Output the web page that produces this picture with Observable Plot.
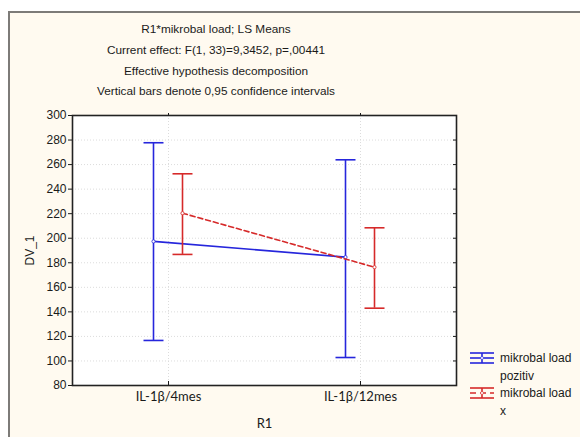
<!DOCTYPE html>
<html>
<head>
<meta charset="utf-8">
<script src="https://cdn.jsdelivr.net/npm/d3@7"></script>
<script src="https://cdn.jsdelivr.net/npm/@observablehq/plot@0.6"></script>
<style>
  html, body { margin: 0; padding: 0; background: #ffffff; width: 580px; height: 437px; overflow: hidden; }
  #wrap { position: relative; width: 580px; height: 437px; }
  #panel { position: absolute; left: 8px; top: 11px; width: 600px; height: 500px; background: #fffaf0; border-left: 2px solid #7d7b78; border-top: 2px solid #7d7b78; }
  #chart { position: absolute; left: 0; top: 0; }
  .title { position: absolute; left: 0; width: 432px; text-align: center; font-family: "Liberation Sans", Arial, sans-serif; font-size: 11.8px; color: #1a1a1a; line-height: 14px; }
  .leg { position: absolute; font-family: "Liberation Sans", Arial, sans-serif; font-size: 12px; color: #1a1a1a; line-height: 14px; }
</style>
</head>
<body>
<div id="wrap">
  <div id="panel"></div>
  <div id="chart"></div>
</div>
<script>
// ---- data ----
const categories = ["IL-1β/4mes", "IL-1β/12mes"];
const seriesNames = ["mikrobal load pozitiv", "mikrobal load x"];
const pozitivMean = [197.4, 184.6];
const pozitivLow  = [116.7, 102.8];
const pozitivHigh = [277.8, 263.9];
const xMean = [220.4, 176.4];
const xLow  = [186.8, 143.0];
const xHigh = [252.5, 208.5];
const yTicks = [80, 100, 120, 140, 160, 180, 200, 220, 240, 260, 280, 300];
const titleLines = [
  "R1*mikrobal load; LS Means",
  "Current effect: F(1, 33)=9,3452, p=,00441",
  "Effective hypothesis decomposition",
  "Vertical bars denote 0,95 confidence intervals"
];

const seriesDefs = [
  {name: seriesNames[0], mean: pozitivMean, lo: pozitivLow, hi: pozitivHigh, color: "#2626dc", dash: null, dx: -15},
  {name: seriesNames[1], mean: xMean, lo: xLow, hi: xHigh, color: "#d62a2a", dash: "5,3", dx: 14}
];

// horizontal cap symbol for error bars
const capSymbol = {
  draw(context, size) {
    const r = Math.sqrt(size / Math.PI);
    context.moveTo(-r, 0);
    context.lineTo(r, 0);
  }
};

const marks = [
  Plot.frame({fill: "white"}),
  Plot.gridY(yTicks, {stroke: "#dcdcdc", strokeOpacity: 1, strokeDasharray: "1,2"}),
  Plot.gridX(categories, {stroke: "#dcdcdc", strokeOpacity: 1, strokeDasharray: "1,2"})
];

for (const s of seriesDefs) {
  const rows = categories.map((c, i) => ({cat: c, mean: s.mean[i], lo: s.lo[i], hi: s.hi[i]}));
  marks.push(
    Plot.ruleX(rows, {x: "cat", y1: "lo", y2: "hi", stroke: s.color, strokeWidth: 1.6, dx: s.dx}),
    Plot.dot(rows, {x: "cat", y: "lo", symbol: capSymbol, r: 10, stroke: s.color, strokeWidth: 1.6, dx: s.dx}),
    Plot.dot(rows, {x: "cat", y: "hi", symbol: capSymbol, r: 10, stroke: s.color, strokeWidth: 1.6, dx: s.dx}),
    Plot.line(rows, {x: "cat", y: "mean", stroke: s.color, strokeWidth: 1.6, strokeDasharray: s.dash, dx: s.dx}),
    Plot.dot(rows, {x: "cat", y: "mean", r: 1.6, fill: "white", stroke: s.color, strokeWidth: 0.8, dx: s.dx})
  );
}

marks.push(
  Plot.axisY(yTicks, {tickSize: 4, tickPadding: 2, fontSize: 12, fontFamily: "Liberation Sans, Arial, sans-serif",
    label: "DV_1", labelAnchor: "center", labelArrow: "none", labelOffset: 47}),
  Plot.axisY(yTicks, {anchor: "right", tickSize: -4, text: null, label: null}),
  Plot.axisX(categories, {tickSize: -4, tickPadding: 10, fontSize: 13, fontFamily: "Lato, sans-serif",
    label: "R1", labelAnchor: "center", labelArrow: "none", labelOffset: 42}),
  Plot.axisX(categories, {anchor: "top", tickSize: 3, text: null, label: null}),
  Plot.frame({stroke: "#222", strokeWidth: 1.6})
);

const chart = Plot.plot({
  width: 580,
  height: 437,
  marginLeft: 72,
  marginRight: 124,
  marginTop: 115,
  marginBottom: 52,
  style: {background: "transparent", color: "#1a1a1a", fontFamily: "Lato, sans-serif", fontSize: "13px"},
  x: {type: "point", domain: categories, padding: 0.5},
  y: {domain: [80, 300]},
  marks
});
document.getElementById("chart").appendChild(chart);

// titles
const wrap = document.getElementById("wrap");
const titleY = [22, 43, 64, 84];
titleLines.forEach((t, i) => {
  const d = document.createElement("div");
  d.className = "title";
  d.style.top = titleY[i] + "px";
  d.textContent = t;
  wrap.appendChild(d);
});

// legend
const legTop = [351, 386];
seriesDefs.forEach((s, i) => {
  const ns = "http://www.w3.org/2000/svg";
  const svg = document.createElementNS(ns, "svg");
  svg.setAttribute("width", 26); svg.setAttribute("height", 14);
  svg.style.position = "absolute"; svg.style.left = "469px"; svg.style.top = (legTop[i]) + "px";
  const mk = (x1, y1, x2, y2, dash) => {
    const l = document.createElementNS(ns, "line");
    l.setAttribute("x1", x1); l.setAttribute("y1", y1); l.setAttribute("x2", x2); l.setAttribute("y2", y2);
    l.setAttribute("stroke", s.color); l.setAttribute("stroke-width", 1.6);
    if (dash) l.setAttribute("stroke-dasharray", dash);
    svg.appendChild(l);
  };
  mk(1, 2, 25, 2); mk(1, 12, 25, 12); mk(1, 7, 25, 7, s.dash ? "6,4" : null); mk(13, 2, 13, 12);
  const c = document.createElementNS(ns, "circle");
  c.setAttribute("cx", 13); c.setAttribute("cy", 7); c.setAttribute("r", 1.5);
  c.setAttribute("fill", "white"); c.setAttribute("stroke", s.color); c.setAttribute("stroke-width", 0.6);
  svg.appendChild(c);
  wrap.appendChild(svg);
  const parts = s.name.split(" ");
  const line1 = parts.slice(0, 2).join(" ");
  const line2 = parts.slice(2).join(" ");
  const d = document.createElement("div");
  d.className = "leg";
  d.style.left = "500px";
  d.style.top = (legTop[i]) + "px";
  d.innerHTML = line1 + "<br><span style='display:inline-block;margin-top:4px'>" + line2 + "</span>";
  wrap.appendChild(d);
});
</script>
</body>
</html>
